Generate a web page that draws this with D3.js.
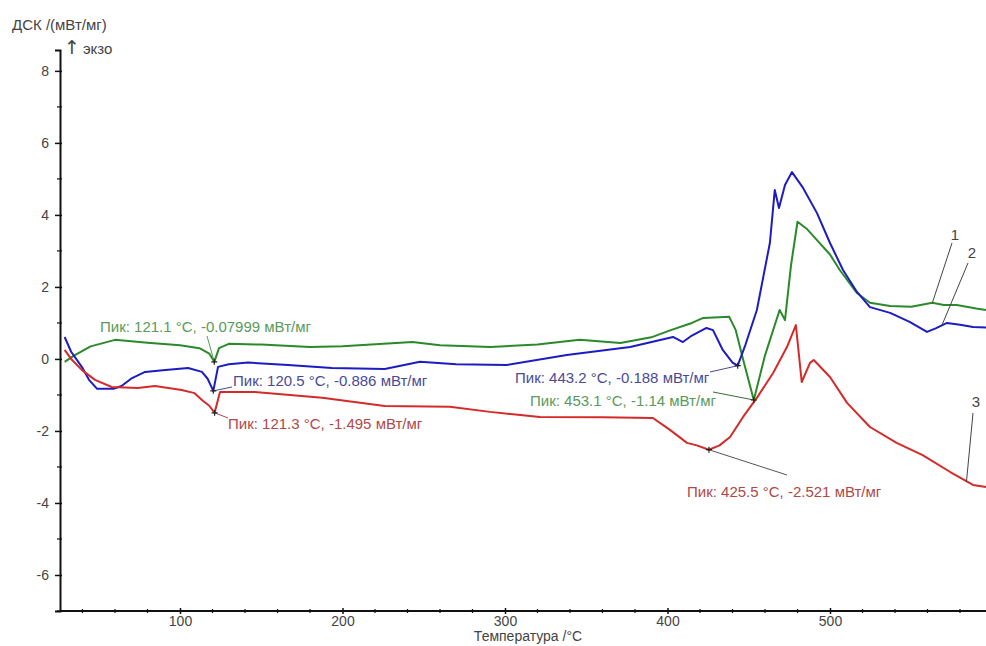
<!DOCTYPE html>
<html><head><meta charset="utf-8">
<script src="https://cdn.jsdelivr.net/npm/d3@7"></script>
<style>
body{margin:0;background:#fff;}
svg{display:block;font-family:"Liberation Sans",Arial,sans-serif;}
</style></head>
<body><svg id="c" width="986" height="646"></svg>
<script>
// ---- data ----
const xTicksMajor = [100, 200, 300, 400, 500];
const yTicksMajor = [-6, -4, -2, 0, 2, 4, 6, 8];

const tGreen = [29,35,45,60,80,100,112,118,121.1,124,130,150,180,200,243,260,291,320,346,371,390,402,415,422,438,442,447,453.1,460,469,472.3,476,480,486,492,500,506,516.6,524.6,537,550,563,570,578,590,596];
const vGreen = [-0.08,0.1,0.35,0.53,0.45,0.38,0.3,0.15,-0.08,0.3,0.42,0.4,0.33,0.35,0.47,0.38,0.33,0.4,0.53,0.44,0.6,0.8,1.0,1.14,1.17,0.8,-0.1,-1.14,0.1,1.36,1.08,2.6,3.81,3.6,3.3,2.9,2.47,1.83,1.56,1.47,1.45,1.56,1.5,1.5,1.4,1.36];

const tBlue = [29,33,40,44,49,59,64,70.5,78.5,91,105,113.5,117,120.5,123.4,130,141.8,166.5,193.5,226,247.7,270,301,338,377,403.4,409.5,415,424,428,434,440,443.2,448,455,463,466,468.6,472.3,476.6,483,492,500,508,516.6,524.6,537,549,559.7,565,572,580,588,596];
const vBlue = [0.61,0.2,-0.25,-0.58,-0.83,-0.83,-0.75,-0.53,-0.36,-0.31,-0.25,-0.36,-0.55,-0.886,-0.22,-0.15,-0.1,-0.17,-0.25,-0.28,-0.08,-0.15,-0.17,0.11,0.33,0.61,0.47,0.65,0.86,0.8,0.25,-0.1,-0.188,0.4,1.36,3.22,4.69,4.19,4.83,5.19,4.78,4.05,3.22,2.47,1.86,1.44,1.28,1.03,0.75,0.85,1.0,0.95,0.89,0.87];

const tRed = [29,33,39.7,47.7,58,74,84.6,101,109,113.5,118,121.3,124.6,146,187.5,226,266,290.8,321.5,360,391,401.5,412,418,425.5,432,438.5,446.5,455,465,473.5,479,482.6,487.7,490,500,510.5,524.6,541,557,574,588,596];
const vRed = [0.25,0.0,-0.31,-0.58,-0.78,-0.81,-0.75,-0.86,-0.95,-1.14,-1.3,-1.495,-0.92,-0.92,-1.08,-1.31,-1.33,-1.47,-1.61,-1.62,-1.64,-1.97,-2.33,-2.4,-2.521,-2.4,-2.17,-1.61,-1.08,-0.39,0.33,0.94,-0.64,-0.11,-0.03,-0.5,-1.22,-1.89,-2.33,-2.67,-3.14,-3.5,-3.56];

const peakLabels = [
  {t:121.1, v:-0.07999, text:"Пик: 121.1 °C, -0.07999 мВт/мг", color:"#5a9a5a", line:"#5a9a5a", lx:100, ly:327, ax:207, ay:336},
  {t:120.5, v:-0.886, text:"Пик: 120.5 °C, -0.886 мВт/мг", color:"#4a4a96", line:"#4a4a96", lx:233, ly:381, ax:232, ay:387},
  {t:121.3, v:-1.495, text:"Пик: 121.3 °C, -1.495 мВт/мг", color:"#b04848", line:"#b04848", lx:228, ly:424, ax:228, ay:418},
  {t:443.2, v:-0.188, text:"Пик: 443.2 °C, -0.188 мВт/мг", color:"#4a4a96", line:"#4a4a96", lx:515, ly:378, ax:710, ay:372},
  {t:453.1, v:-1.14, text:"Пик: 453.1 °C, -1.14 мВт/мг", color:"#5a9a5a", line:"#3a6a3a", lx:530, ly:401, ax:713, ay:392},
  {t:425.5, v:-2.521, text:"Пик: 425.5 °C, -2.521 мВт/мг", color:"#b04848", line:"#555", lx:687, ly:492, ax:787, ay:475}
];
const curveLabels = [
  {name:"1", t:563, v:1.56, lx:955, ly:240, ax:952, ay:243},
  {name:"2", t:569, v:0.95, lx:972, ly:258, ax:968, ay:263},
  {name:"3", t:584, v:-3.4, lx:976, ly:407, ax:973, ay:413}
];

// ---- scales ----
const svg = d3.select("#c");
const x = d3.scaleLinear().domain([26.15, 596]).range([60, 986]);
const y = d3.scaleLinear().domain([-7, 8.58]).range([611, 50]);

const axisColor = "#111";
const FF = "Liberation Sans, Arial, sans-serif";
const yAxis = d3.axisLeft(y).tickValues(yTicksMajor).tickSize(5).tickPadding(6).tickFormat(d => String(d));
const gy = svg.append("g").attr("transform","translate(60,0)").call(yAxis);
gy.select(".domain").attr("stroke",axisColor).attr("stroke-width",2);
gy.selectAll(".tick line").attr("stroke",axisColor).attr("stroke-width",1.5).attr("x2",-5).attr("x1",2);
gy.selectAll(".tick text").attr("font-size",14).attr("fill","#444").attr("font-family",FF);
const yMinor = d3.range(-7, 9, 1).filter(d => yTicksMajor.indexOf(d) < 0);
svg.append("g").selectAll("line").data(yMinor).join("line")
  .attr("x1",57).attr("x2",62).attr("y1",d=>y(d)).attr("y2",d=>y(d))
  .attr("stroke",axisColor).attr("stroke-width",1.2);

const xAxis = d3.axisBottom(x).tickValues(xTicksMajor).tickSize(3).tickPadding(2).tickFormat(d => String(d));
const gx = svg.append("g").attr("transform","translate(0,611)").call(xAxis);
gx.select(".domain").attr("stroke",axisColor).attr("stroke-width",2).attr("d","M60,0H986");
gx.selectAll(".tick line").attr("stroke",axisColor).attr("stroke-width",1.5).attr("y1",-3).attr("y2",3);
gx.selectAll(".tick text").attr("font-size",14).attr("fill","#444").attr("font-family",FF);
const xMinor = d3.range(40, 600, 20).filter(d => xTicksMajor.indexOf(d) < 0);
svg.append("g").selectAll("line").data(xMinor).join("line")
  .attr("x1",d=>x(d)).attr("x2",d=>x(d)).attr("y1",609).attr("y2",613)
  .attr("stroke",axisColor).attr("stroke-width",1.2);

// titles
svg.append("text").attr("x",12).attr("y",30).attr("font-size",15).attr("fill","#444").text("ДСК /(мВт/мг)");
const ekzo = svg.append("text").attr("x",64).attr("y",54).attr("font-size",15).attr("fill","#444");
ekzo.append("tspan").attr("font-size",19).attr("font-family","DejaVu Sans, sans-serif").text("↑");
ekzo.append("tspan").attr("dx",3).text("экзо");
svg.append("text").attr("x",528).attr("y",641).attr("text-anchor","middle").attr("font-size",14).attr("fill","#444").text("Температура /°C");

// curves
const line = d3.line().x(d=>x(d[0])).y(d=>y(d[1]));
const series = [
  {t:tGreen, v:vGreen, color:"#2a8a2a"},
  {t:tBlue, v:vBlue, color:"#1c1cc0"},
  {t:tRed, v:vRed, color:"#d42a2a"}
];
series.forEach(s=>{
  svg.append("path").datum(s.t.map((t,i)=>[t,s.v[i]]))
    .attr("d",line).attr("fill","none").attr("stroke",s.color)
    .attr("stroke-width",2).attr("stroke-linejoin","round");
});

// peak annotations
peakLabels.forEach(p=>{
  const px = x(p.t), py = y(p.v);
  svg.append("line").attr("x1",p.ax).attr("y1",p.ay).attr("x2",px).attr("y2",py)
    .attr("stroke",p.line).attr("stroke-width",1);
  svg.append("path").attr("d",`M${px-3},${py}H${px+3}M${px},${py-3}V${py+3}`)
    .attr("stroke","#222").attr("stroke-width",1.2);
  svg.append("text").attr("x",p.lx).attr("y",p.ly).attr("dy","0.35em")
    .attr("font-size",15).attr("fill",p.color).text(p.text);
});

// curve number labels
curveLabels.forEach(c=>{
  svg.append("line").attr("x1",c.ax).attr("y1",c.ay).attr("x2",x(c.t)).attr("y2",y(c.v))
    .attr("stroke","#444").attr("stroke-width",1);
  svg.append("text").attr("x",c.lx).attr("y",c.ly).attr("text-anchor","middle")
    .attr("font-size",15).attr("fill","#444").text(c.name);
});
</script></body></html>
